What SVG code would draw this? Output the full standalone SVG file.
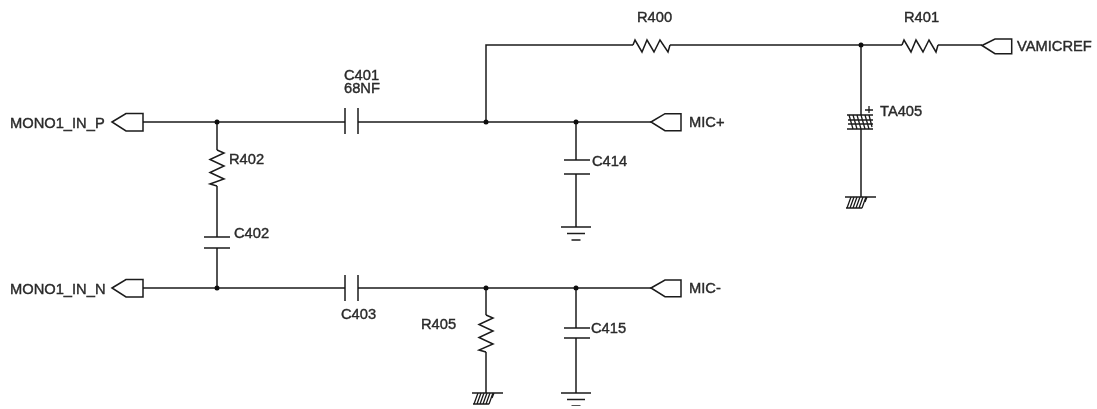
<svg xmlns="http://www.w3.org/2000/svg" width="1097" height="409" viewBox="0 0 1097 409">
<style>
.w{fill:none;stroke:#1a1a1a;stroke-width:1.5}
.h{fill:none;stroke:#1a1a1a;stroke-width:1.3}
.p{fill:#fff;stroke:#1a1a1a;stroke-width:1.5;stroke-linejoin:miter}
.d{fill:#111;stroke:none}
text{font-family:"Liberation Sans",Arial,sans-serif;font-size:14.7px;fill:#2a2a2a;stroke:#2a2a2a;stroke-width:.4}
</style>
<defs>
<filter id="soft" x="0" y="0" width="1" height="1"><feGaussianBlur stdDeviation="0.35"/></filter>
<g id="gnd"><path class="w" d="M-15 0H15M-9 6.500H9M-4.500 13H4.500"/></g>
<g id="hgnd"><path class="w" d="M-15 0H16"/><path class="h" d="M-13 11L-9 0M-10 11L-6 0M-7 11L-3 0M-4 11L0 0M-1 11L3 0M2 11L6 0M5 5L7 0M-14 11H2"/></g>
</defs>
<rect width="1097" height="409" fill="#fff"/>
<g filter="url(#soft)">
<g id="connectors">
<path class="w" d="M486 122V45H633M670 45H902M938 45H982"/>
<path class="w" d="M143 122H345M358 122H651"/>
<path class="w" d="M143 288H345M358 288H651"/>
<path class="w" d="M217 122V150M217 186V237M217 248V288"/>
<path class="w" d="M486 288V315M486 352V393"/>
<path class="w" d="M576 122V160M576 174V227"/>
<path class="w" d="M576 288V328M576 338V393"/>
<path class="w" d="M861 45V115M861 129V197"/>
</g>
<g id="junctions">
<circle class="d" cx="217" cy="122" r="2.500"/><circle class="d" cx="486" cy="122" r="2.500"/><circle class="d" cx="576" cy="122" r="2.500"/>
<circle class="d" cx="217" cy="288" r="2.500"/><circle class="d" cx="486" cy="288" r="2.500"/><circle class="d" cx="576" cy="288" r="2.500"/>
<circle class="d" cx="861" cy="45" r="2.500"/>
</g>
<g id="MONO1_IN_P"><path class="p" d="M112 122L126 113.500H143V131H126Z"/><text x="10" y="127.500">MONO1_IN_P</text></g>
<g id="MONO1_IN_N"><path class="p" d="M112 288L126 279.500H143V297H126Z"/><text x="10" y="293.500">MONO1_IN_N</text></g>
<g id="MICP"><path class="p" d="M651 122L665 113.700H681V130.700H665Z"/><text x="689" y="127">MIC+</text></g>
<g id="MICN"><path class="p" d="M651 288L665 280H681V296.700H665Z"/><text x="689" y="293">MIC-</text></g>
<g id="VAMICREF"><path class="p" d="M982 45.500L995 39H1011.700V53.700H995Z"/><text x="1017" y="51">VAMICREF</text></g>
<g id="R400"><path class="w" d="M633 45L635 40L642 52L647 40L654 52L660 40L668 52L670 45"/><text x="637" y="22">R400</text></g>
<g id="R401"><path class="w" d="M902 45L904 40L911 52L916 40L923 52L929 40L936 52L938 45"/><text x="904" y="22">R401</text></g>
<g id="R402"><path class="w" d="M217 150L224 153L210 159.500L224 166L210 172.500L224 179L210 184L217 186"/><text x="229" y="163.500">R402</text></g>
<g id="R405"><path class="w" d="M486 315L493 318L479 324.500L493 331L479 337.500L493 344L479 350L486 352"/><text x="421" y="329">R405</text></g>
<g id="C401"><path class="w" d="M345 108V134M358 108V134"/><text x="344" y="80">C401</text><text x="344" y="93">68NF</text></g>
<g id="C403"><path class="w" d="M345 275V301M358 275V301"/><text x="341" y="319">C403</text></g>
<g id="C402"><path class="w" d="M204 237H230M204 248H230"/><text x="234" y="238">C402</text></g>
<g id="C414"><path class="w" d="M564 160H590M564 174H590"/><text x="592" y="166">C414</text></g>
<g id="C415"><path class="w" d="M564 328H590M564 338H590"/><text x="591" y="332.500">C415</text></g>
<g id="TA405"><path class="w" d="M847 115H873M847 129H873"/><path class="h" d="M869 106V113M865 110H873M849 115L853 129M853 115L857 129M857 115L861 129M861 115L865 129M865 115L869 129M869 115L872 127M848 120H873M848 124H873"/><text x="880" y="116">TA405</text></g>
<g id="gnd1"><use href="#gnd" x="576" y="227"/></g>
<g id="gnd2"><use href="#gnd" x="576" y="393"/></g>
<g id="gnd3"><use href="#hgnd" x="487" y="393"/></g>
<g id="gnd4"><use href="#hgnd" x="860" y="197"/></g>
</g>
</svg>
